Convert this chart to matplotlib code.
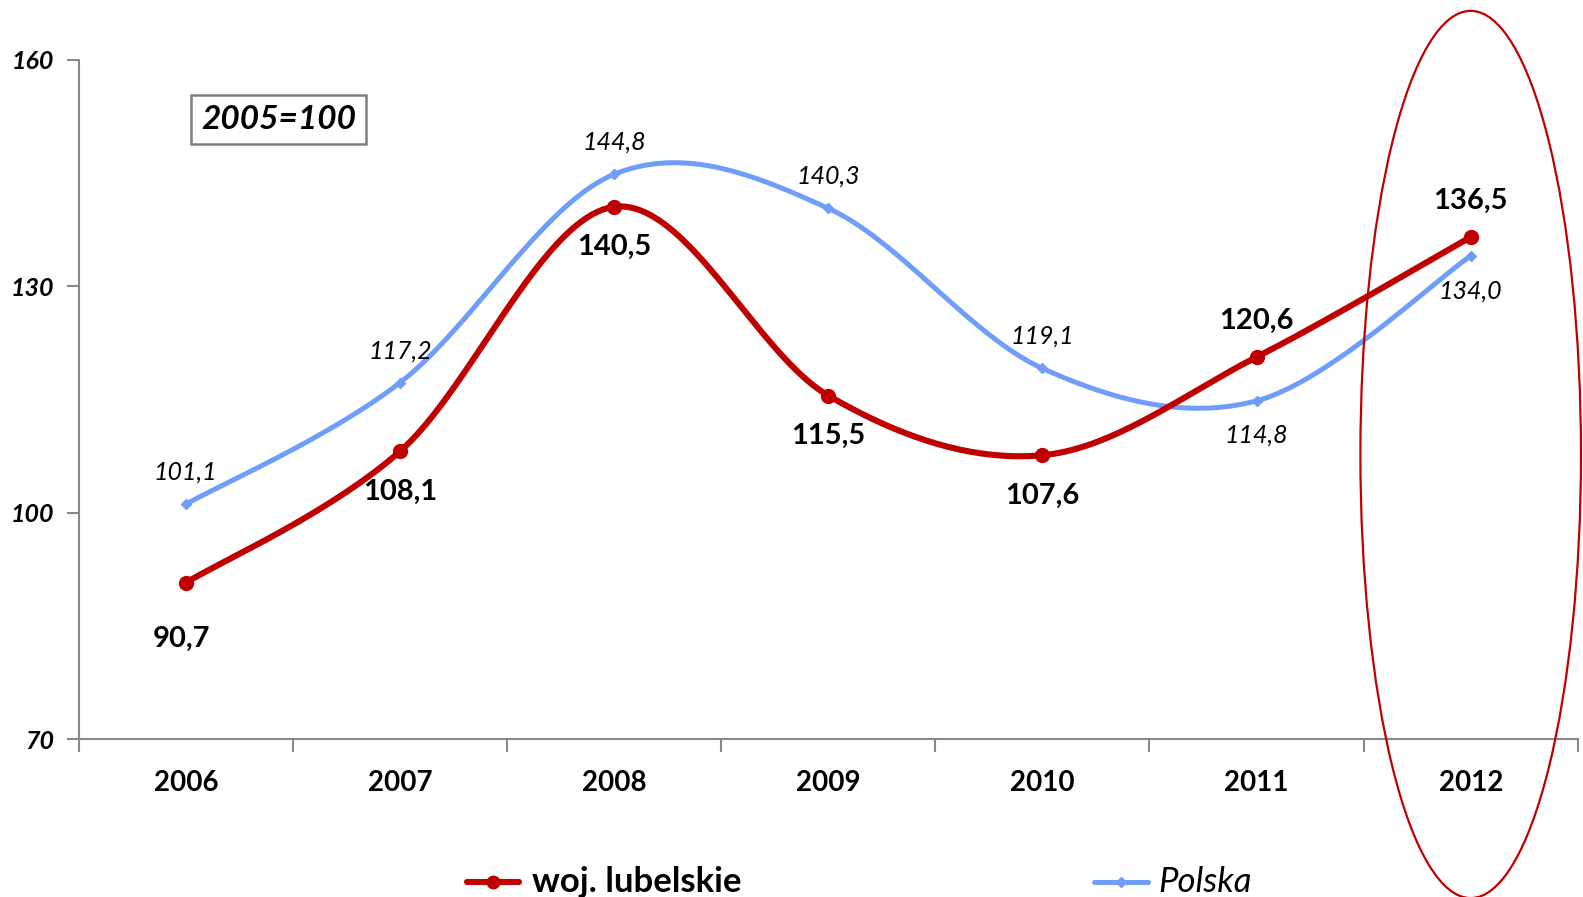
import numpy as np
import matplotlib.pyplot as plt
from matplotlib.patches import Ellipse

years = ['2006', '2007', '2008', '2009', '2010', '2011', '2012']
lubelskie = [90.7, 108.1, 140.5, 115.5, 107.6, 120.6, 136.5]
polska = [101.1, 117.2, 144.8, 140.3, 119.1, 114.8, 134.0]
# label offsets (points) relative to each point
lub_off = [(-3, -40), (0, -29), (0, -29), (0, -29), (0, -29), (0, 26), (0, 26)]
pol_off = [(0, 23), (0, 23), (0, 23), (0, 23), (0, 23), (0, -25), (0, -25)]

RED = '#C00000'
BLUE = '#6F9DFA'
plt.rcParams['font.family'] = ['Lato', 'DejaVu Sans']


def smooth(x, y, n=40):
    # excel-style smoothing: bezier segments with catmull-rom control points
    x = np.asarray(x, float)
    y = np.asarray(y, float)
    px = np.concatenate([[x[0]], x, [x[-1]]])
    py = np.concatenate([[y[0]], y, [y[-1]]])
    xs, ys = [], []
    t = np.linspace(0, 1, n)
    for i in range(len(x) - 1):
        p0 = np.array([px[i + 1], py[i + 1]])
        p3 = np.array([px[i + 2], py[i + 2]])
        c1 = p0 + (np.array([px[i + 2], py[i + 2]]) - np.array([px[i], py[i]])) / 6
        c2 = p3 - (np.array([px[i + 3], py[i + 3]]) - np.array([px[i + 1], py[i + 1]])) / 6
        b = ((1 - t) ** 3)[:, None] * p0 + (3 * (1 - t) ** 2 * t)[:, None] * c1 \
            + (3 * (1 - t) * t ** 2)[:, None] * c2 + (t ** 3)[:, None] * p3
        xs.extend(b[:, 0])
        ys.extend(b[:, 1])
    return xs, ys


fig = plt.figure(figsize=(15.83, 8.97), dpi=100)
ax = fig.add_axes([0.0497, 0.176, 0.947, 0.7576])
x = np.arange(len(years))

sx, sy = smooth(x, polska)
ax.plot(sx, sy, color=BLUE, lw=3.6, solid_capstyle='round', zorder=3)
ax.plot(x, polska, ls='none', marker='D', ms=5, color=BLUE, zorder=4)
sx, sy = smooth(x, lubelskie)
ax.plot(sx, sy, color=RED, lw=4.4, solid_capstyle='round', zorder=5)
ax.plot(x, lubelskie, ls='none', marker='o', ms=10, color=RED, zorder=6)

for i, v in enumerate(lubelskie):
    ax.annotate(f'{v:.1f}'.replace('.', ','), (i, v), xytext=lub_off[i], textcoords='offset points',
                ha='center', va='center', fontsize=21, fontweight='bold', color='black', zorder=7)
for i, v in enumerate(polska):
    ax.annotate(f'{v:.1f}'.replace('.', ','), (i, v), xytext=pol_off[i], textcoords='offset points',
                ha='center', va='center', fontsize=18, fontstyle='italic', color='black', zorder=7)

ax.set_xlim(-0.5, 6.5)
ax.set_ylim(70, 160)
ax.set_yticks([70, 100, 130, 160])
ax.set_yticklabels(['70', '100', '130', '160'], fontsize=18, fontweight='bold', fontstyle='italic')
ax.set_xticks(x)
ax.set_xticklabels(years, fontsize=20, fontweight='bold')
ax.set_xticks(np.arange(-0.5, 7, 1), minor=True)
ax.tick_params(axis='x', which='major', length=0, pad=22)
ax.tick_params(axis='x', which='minor', length=9, color='#888888', width=1.5)
ax.tick_params(axis='y', length=9, color='#888888', width=1.5, pad=9)
for s in ['top', 'right']:
    ax.spines[s].set_visible(False)
for s in ['left', 'bottom']:
    ax.spines[s].set_color('#888888')
    ax.spines[s].set_linewidth(1.5)

ax.text(0.434, 152.1, '2005=100', fontsize=24, fontweight='bold', fontstyle='italic', ha='center', va='center',
        bbox=dict(boxstyle='square,pad=0.3', fc='white', ec='#808080', lw=1.8))

ell = Ellipse((6.0, 107.7), 1.03, 117.5, fill=False, ec=RED, lw=1.6, clip_on=False, zorder=8)
ax.add_patch(ell)

# legend
ly = 0.017
fig.add_artist(plt.Line2D([0.295, 0.328], [ly, ly], transform=fig.transFigure, color=RED, lw=4.4,
                          solid_capstyle='round'))
fig.add_artist(plt.Line2D([0.3115], [ly], transform=fig.transFigure, color=RED, marker='o', ms=9, ls='none'))
fig.text(0.336, ly, 'woj. lubelskie', fontsize=25, fontweight='bold', va='center', ha='left')
fig.add_artist(plt.Line2D([0.691, 0.725], [ly, ly], transform=fig.transFigure, color=BLUE, lw=3.6,
                          solid_capstyle='round'))
fig.add_artist(plt.Line2D([0.708], [ly], transform=fig.transFigure, color=BLUE, marker='D', ms=5, ls='none'))
fig.text(0.732, ly, 'Polska', fontsize=25, fontstyle='italic', va='center', ha='left')

fig.savefig('out.png', dpi=100)
